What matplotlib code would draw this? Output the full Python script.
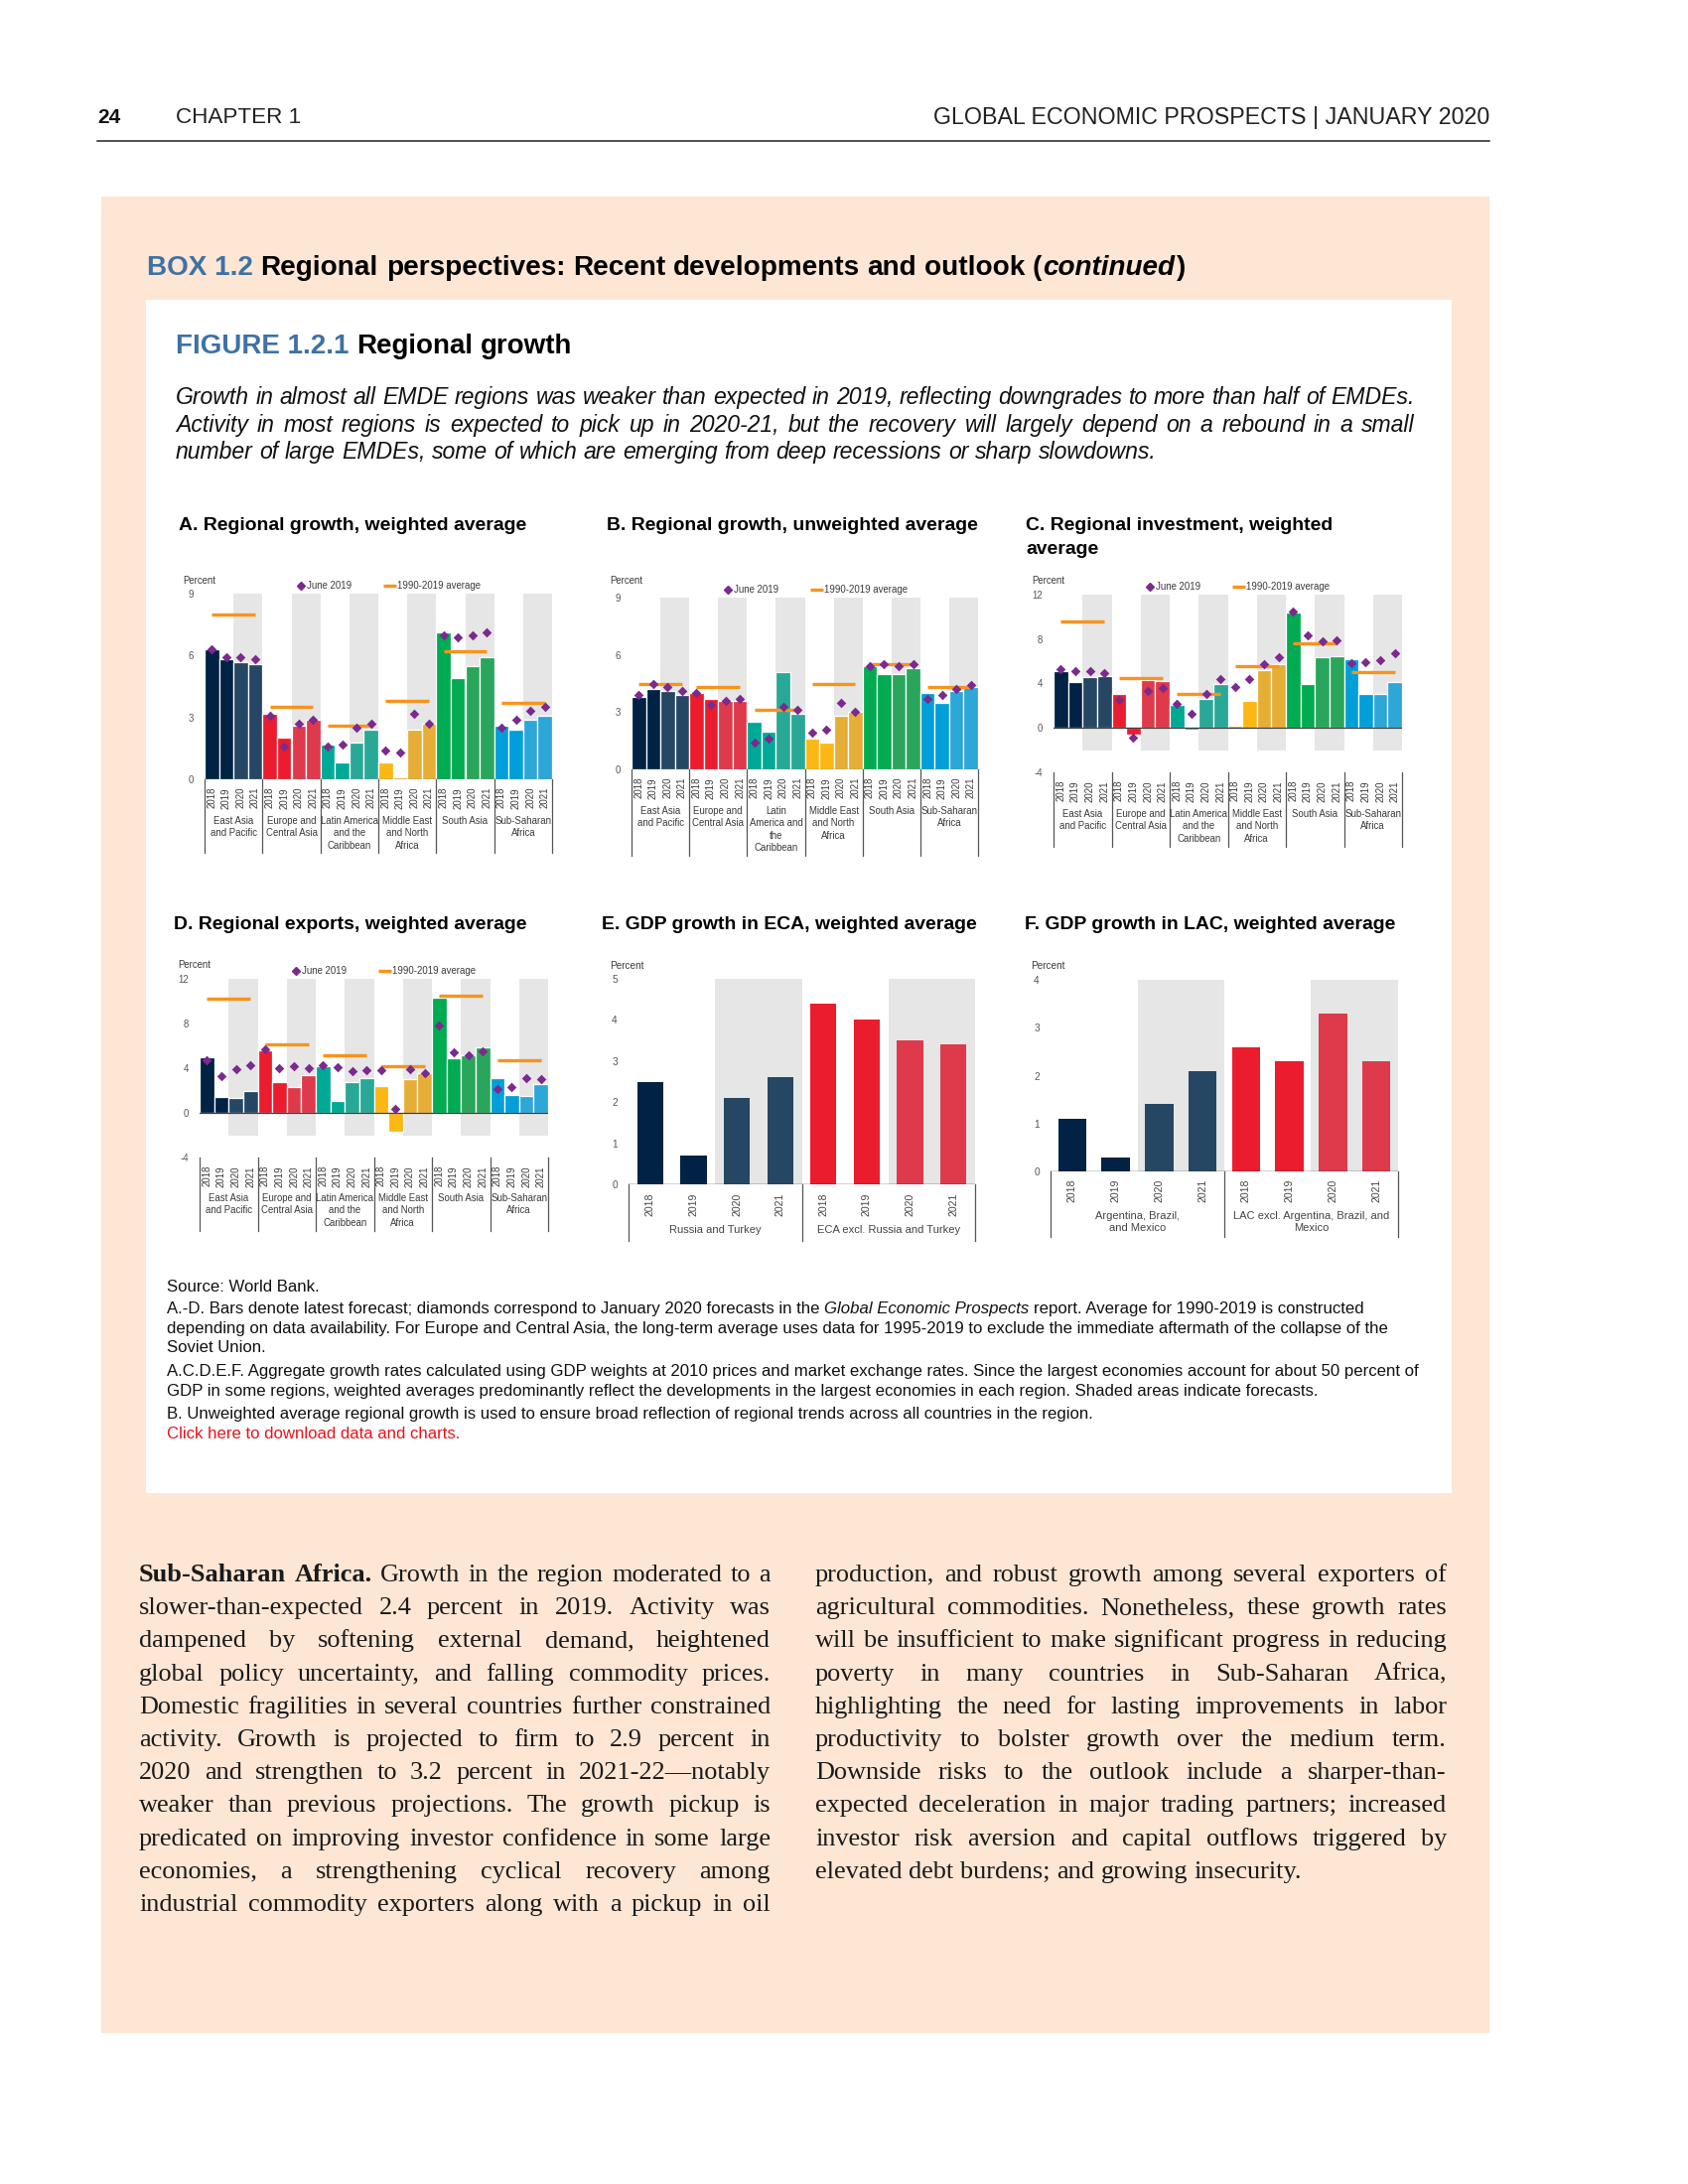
import numpy as np
import matplotlib
matplotlib.use('Agg')
import matplotlib.pyplot as plt
from matplotlib.font_manager import FontProperties
from matplotlib.patches import Rectangle
from matplotlib.lines import Line2D
import matplotlib.transforms as mtransforms

plt.rcParams['font.family'] = ['Liberation Sans', 'DejaVu Sans']

# ------------------------------------------------------------------ data
years = ['2018', '2019', '2020', '2021']
regions_A = ['East Asia\nand Pacific', 'Europe and\nCentral Asia', 'Latin America\nand the\nCaribbean',
             'Middle East\nand North\nAfrica', 'South Asia', 'Sub-Saharan\nAfrica']
regions_B = ['East Asia\nand Pacific', 'Europe and\nCentral Asia', 'Latin\nAmerica and\nthe\nCaribbean',
             'Middle East\nand North\nAfrica', 'South Asia', 'Sub-Saharan\nAfrica']
groups_E = ['Russia and Turkey', 'ECA excl. Russia and Turkey']
groups_F = ['Argentina, Brazil,\nand Mexico', 'LAC excl. Argentina, Brazil, and\nMexico']

# A. Regional growth, weighted average
a_bars = [6.3, 5.8, 5.7, 5.6, 3.2, 2.0, 2.6, 2.9, 1.7, 0.8, 1.8, 2.4,
          0.8, 0.1, 2.4, 2.7, 7.1, 4.9, 5.5, 5.9, 2.6, 2.4, 2.9, 3.1]
a_june = [6.3, 5.9, 5.9, 5.8, 3.1, 1.6, 2.7, 2.9, 1.6, 1.7, 2.5, 2.7,
          1.4, 1.3, 3.2, 2.7, 7.0, 6.9, 7.0, 7.1, 2.5, 2.9, 3.3, 3.5]
a_avg = [8.0, 3.5, 2.6, 3.8, 6.2, 3.7]

# B. Regional growth, unweighted average
b_bars = [3.8, 4.2, 4.1, 3.9, 4.0, 3.7, 3.6, 3.6, 2.5, 2.0, 5.1, 2.9,
          1.6, 1.4, 2.8, 3.0, 5.4, 5.0, 5.0, 5.3, 4.0, 3.5, 4.1, 4.3]
b_june = [3.9, 4.5, 4.3, 4.1, 4.0, 3.4, 3.6, 3.7, 1.4, 1.6, 3.3, 3.1,
          1.9, 2.1, 3.5, 3.0, 5.4, 5.5, 5.4, 5.5, 3.7, 3.9, 4.2, 4.4]
b_avg = [4.5, 4.3, 3.1, 4.5, 5.5, 4.3]

# C. Regional investment, weighted average
c_bars = [5.1, 4.1, 4.6, 4.7, 3.1, -0.6, 4.3, 4.2, 2.1, -0.2, 2.6, 4.0,
          0.2, 2.4, 5.2, 5.7, 10.4, 4.0, 6.4, 6.5, 6.2, 3.1, 3.1, 4.1]
c_june = [5.3, 5.1, 5.1, 4.9, 2.5, -0.9, 3.3, 3.6, 2.2, 1.3, 3.1, 4.4,
          3.7, 4.4, 5.7, 6.4, 10.5, 8.3, 7.8, 7.9, 5.8, 5.9, 6.1, 6.7]
c_avg = [9.6, 4.5, 3.1, 5.6, 7.6, 5.0]

# D. Regional exports, weighted average
d_bars = [5.0, 1.4, 1.3, 2.0, 5.6, 2.8, 2.3, 3.4, 4.2, 1.1, 2.8, 3.1,
          2.4, -1.7, 3.0, 3.6, 10.3, 4.9, 5.2, 5.9, 3.1, 1.6, 1.5, 2.6]
d_june = [4.7, 3.3, 3.9, 4.3, 5.7, 4.0, 4.2, 4.0, 4.3, 4.1, 3.7, 3.8,
          3.8, 0.4, 3.9, 3.6, 7.8, 5.4, 5.2, 5.5, 2.1, 2.3, 3.1, 3.0]
d_avg = [10.2, 6.1, 5.2, 4.2, 10.5, 4.7]

# E. GDP growth in ECA ; F. GDP growth in LAC
e_bars = [2.5, 0.7, 2.1, 2.6, 4.4, 4.0, 3.5, 3.4]
f_bars = [1.1, 0.3, 1.4, 2.1, 2.6, 2.3, 3.3, 2.3]

# ------------------------------------------------------------------ style
W, H = 1700, 2200
PEACH = '#FDE6D4'
BLUE = '#3F71A3'
SHADE = '#E6E6E6'
ORANGE = '#F7941D'
PURPLE = '#7B2A8E'
TXT = '#3A3A3A'
DARK = ['#002244', '#EB1C2D', '#00A996', '#FDB714', '#00AB51', '#009FDA']
LIGHT = ['#264764', '#DE3A4B', '#2AA897', '#E6AE37', '#2AA65C', '#2DA6D8']

fig = plt.figure(figsize=(17, 22), dpi=100)
fig.patch.set_facecolor('white')
renderer = fig.canvas.get_renderer()


def FX(x):
    return x / W


def FY(y):
    return 1 - y / H


def FP(size, weight='normal', style='normal', family='Liberation Sans'):
    return FontProperties(family=family, size=size, weight=weight, style=style)


def measure(s, fp):
    w, h, d = renderer.get_text_width_height_descent(s, fp, ismath=False)
    return w


def space_w(fp):
    return measure('a a', fp) - measure('aa', fp)


def put_words(words, x0, y, x1=None, justify=False):
    """words: list of (text, fontprops, color); y is baseline in px."""
    widths = [measure(t, fp) for t, fp, c in words]
    if justify and len(words) > 1:
        gap = (x1 - x0 - sum(widths)) / (len(words) - 1)
        gaps = [gap] * (len(words) - 1)
    else:
        gaps = [space_w(words[i][1]) for i in range(len(words) - 1)]
    x = x0
    for i, ((t, fp, c), w) in enumerate(zip(words, widths)):
        fig.text(FX(x), FY(y), t, fontproperties=fp, color=c, ha='left', va='baseline')
        if i < len(gaps):
            x += w + gaps[i]


def split_words(text, fp, color):
    return [(w, fp, color) for w in text.split()]


def fit(text, target, base=12, **kw):
    return base * target / measure(text, FP(base, **kw))


# ------------------------------------------------------------------ page
fig.add_artist(Rectangle((FX(102), FY(2048)), (1500 - 102) / W, (2048 - 198) / H,
                         transform=fig.transFigure, facecolor=PEACH, edgecolor='none', zorder=-5))
fig.add_artist(Rectangle((FX(147), FY(1504)), (1462 - 147) / W, (1504 - 302) / H,
                         transform=fig.transFigure, facecolor='white', edgecolor='none', zorder=-4))
fig.add_artist(Line2D([FX(98), FX(1500)], [FY(142), FY(142)], color='#222222', lw=1.1,
                      transform=fig.transFigure))

fig.text(FX(98), FY(119), '24', fontsize=15, fontweight='bold', va='center', ha='left', color='#111111')
fig.text(FX(177), FY(119), 'CHAPTER 1', fontsize=fit('CHAPTER 1', 126), va='center', ha='left', color='#222222')
hdr = 'GLOBAL ECONOMIC PROSPECTS | JANUARY 2020'
fig.text(FX(1500), FY(119), hdr, fontsize=fit(hdr, 560), va='center', ha='right', color='#222222')

# BOX title
box_full = 'BOX 1.2 Regional perspectives: Recent developments and outlook (continued)'
bfs = fit(box_full, 1036, weight='bold')
bfp = FP(bfs, 'bold')
bifp = FP(bfs, 'bold', 'italic')
put_words([('BOX 1.2', bfp, BLUE), ('Regional', bfp, 'black'), ('perspectives:', bfp, 'black'),
           ('Recent', bfp, 'black'), ('developments', bfp, 'black'), ('and', bfp, 'black')], 148, 277)
x_out = 148 + measure('BOX 1.2 Regional perspectives: Recent developments and', bfp) + space_w(bfp)
fig.text(FX(x_out), FY(277), 'outlook (', fontproperties=bfp, color='black', va='baseline', ha='left')
x_it = x_out + measure('outlook', bfp) + space_w(bfp) + measure('(', bfp) + 1
fig.text(FX(x_it), FY(277), 'continued', fontproperties=bifp, color='black', va='baseline', ha='left')
fig.text(FX(x_it + measure('continued', bifp) + 2), FY(277), ')', fontproperties=bfp, color='black',
         va='baseline', ha='left')

# FIGURE title
ffs = fit('FIGURE 1.2.1 Regional growth', 398, weight='bold')
ffp = FP(ffs, 'bold')
put_words([('FIGURE 1.2.1', ffp, BLUE), ('Regional', ffp, 'black'), ('growth', ffp, 'black')], 177, 356)

# italic subtitle
sub_lines = ['Growth in almost all EMDE regions was weaker than expected in 2019, reflecting downgrades to more than half of EMDEs.',
             'Activity in most regions is expected to pick up in 2020-21, but the recovery will largely depend on a rebound in a small',
             'number of large EMDEs, some of which are emerging from deep recessions or sharp slowdowns.']
sfs = fit(sub_lines[0], 1248, style='italic')
sfp = FP(sfs, style='italic')
for i, (ln, yb) in enumerate(zip(sub_lines, [407, 435, 462])):
    put_words(split_words(ln, sfp, '#111111'), 177, yb, 1425, justify=(i < 2))

# ------------------------------------------------------------------ panels
tfs = fit('A. Regional growth, weighted average', 349, weight='bold')
SMALL = 6.9


def panel_title(x, y, s):
    fig.text(FX(x), FY(y), s, fontsize=tfs, fontweight='bold', ha='left', va='baseline', color='black')


def percent_and_legend(x0, ytop, legend=True, dy=-13):
    fig.text(FX(x0 - 22), FY(ytop + dy), 'Percent', fontsize=SMALL, ha='left', va='center', color=TXT)
    if legend:
        yl = ytop - 8
        fig.add_artist(Line2D([FX(x0 + 97)], [FY(yl)], marker='D', markersize=4.2, color=PURPLE,
                              linestyle='none', transform=fig.transFigure))
        fig.text(FX(x0 + 103), FY(yl), 'June 2019', fontsize=SMALL, ha='left', va='center', color=TXT)
        fig.add_artist(Line2D([FX(x0 + 180), FX(x0 + 193)], [FY(yl), FY(yl)], color=ORANGE, lw=2.4,
                              solid_capstyle='butt', transform=fig.transFigure))
        fig.text(FX(x0 + 194), FY(yl), '1990-2019 average', fontsize=SMALL, ha='left', va='center', color=TXT)


def category_axis(ax, ah, ticklabels, groups, per, sep_len, year_off, group_off, fs, gfs=None, color=TXT):
    gfs = fs if gfs is None else gfs
    trans = mtransforms.blended_transform_factory(ax.transData, ax.transAxes)
    for i, t in enumerate(ticklabels):
        ax.text(i, -year_off / ah, t, transform=trans, rotation=90, ha='center', va='top',
                fontsize=fs, color=color, clip_on=False)
    for g, lab in enumerate(groups):
        ax.text(g * per + (per - 1) / 2, -group_off / ah, lab, transform=trans, ha='center', va='top',
                fontsize=gfs, linespacing=1.3, color=color, clip_on=False)
    for b in range(len(groups) + 1):
        xb = b * per - 0.5
        ax.add_line(Line2D([xb, xb], [0, -sep_len / ah], transform=trans, color='#555555', lw=0.9,
                           clip_on=False))


def style_axes(ax, ylim, yticks, fs=SMALL):
    ax.set_ylim(*ylim)
    ax.set_yticks(yticks)
    ax.set_yticklabels([str(t) for t in yticks])
    ax.tick_params(axis='y', length=0, pad=8, labelsize=fs, labelcolor='#555555')
    ax.set_xticks([])
    for s in ax.spines.values():
        s.set_visible(False)
    ax.patch.set_alpha(0)


def regional_panel(x0, x1, ytop, ybot, ylim, yticks, shade_lo, bars, june, avg, labels, sep_len, group_off):
    ax = fig.add_axes([FX(x0), FY(ybot), (x1 - x0) / W, (ybot - ytop) / H])
    n = len(bars)
    idx = np.arange(n)
    gs = np.arange(len(avg)) * 4
    ax.bar(gs + 2.5, [ylim[1] - shade_lo] * len(gs), width=2.0, bottom=shade_lo, color=SHADE,
           linewidth=0, zorder=0)
    cols = [DARK[i // 4] if i % 4 < 2 else LIGHT[i // 4] for i in range(n)]
    ax.bar(idx, bars, width=1.0, color=cols, edgecolor='white', linewidth=0.9, zorder=2)
    ax.axhline(0, color='#3a3a3a', lw=0.9, zorder=3)
    ax.hlines(avg, gs, gs + 3, colors=ORANGE, lw=2.4, zorder=4)
    ax.scatter(idx, june, marker='D', s=24, color=PURPLE, linewidths=0, zorder=5)
    ax.set_xlim(-0.5, n - 0.5)
    style_axes(ax, ylim, yticks)
    category_axis(ax, ybot - ytop, years * len(labels), labels, 4, sep_len, 8, group_off, SMALL)
    return ax


def split_panel(x0, x1, ytop, ybot, ymax, bars, groups, width, sep_len, year_off, group_off):
    ax = fig.add_axes([FX(x0), FY(ybot), (x1 - x0) / W, (ybot - ytop) / H])
    idx = np.arange(len(bars))
    ax.bar([2.5, 6.5], [ymax, ymax], width=2.0, color=SHADE, linewidth=0, zorder=0)
    cols = [DARK[0], DARK[0], LIGHT[0], LIGHT[0], DARK[1], DARK[1], LIGHT[1], LIGHT[1]]
    ax.bar(idx, bars, width=width, color=cols, linewidth=0, zorder=2)
    ax.axhline(0, color='#222222', lw=1.0, zorder=3)
    ax.set_xlim(-0.5, len(bars) - 0.5)
    style_axes(ax, (0, ymax), list(range(0, ymax + 1)), fs=7.3)
    category_axis(ax, ybot - ytop, years * 2, groups, 4, sep_len, year_off, group_off, 7.6, gfs=8.0,
                  color='#444444')
    return ax


# A
panel_title(180, 534, 'A. Regional growth, weighted average')
regional_panel(206, 556, 598, 785, (0, 9), [0, 3, 6, 9], 0, a_bars, a_june, a_avg, regions_A, 74, 37)
percent_and_legend(206, 598)

# B
panel_title(611, 534, 'B. Regional growth, unweighted average')
regional_panel(636, 985, 602, 775, (0, 9), [0, 3, 6, 9], 0, b_bars, b_june, b_avg, regions_B, 87, 37)
percent_and_legend(636, 602, dy=-17)

# C
panel_title(1033, 534, 'C. Regional investment, weighted')
panel_title(1033, 558, 'average')
regional_panel(1061, 1412, 599, 778, (-4, 12), [-4, 0, 4, 8, 12], -2, c_bars, c_june, c_avg, regions_A, 75, 37)
percent_and_legend(1061, 599, dy=-14)

# D
panel_title(175, 936, 'D. Regional exports, weighted average')
regional_panel(201, 552, 986, 1166, (-4, 12), [-4, 0, 4, 8, 12], -2, d_bars, d_june, d_avg, regions_A, 74, 36)
percent_and_legend(201, 986, dy=-14)

# E
panel_title(606, 936, 'E. GDP growth in ECA, weighted average')
split_panel(633, 982, 986, 1193, 5, e_bars, groups_E, 0.6, 57, 9, 41)
fig.text(FX(614), FY(973), 'Percent', fontsize=7.2, ha='left', va='center', color=TXT)

# F
panel_title(1032, 936, 'F. GDP growth in LAC, weighted average')
split_panel(1058, 1408, 987, 1180, 4, f_bars, groups_F, 0.65, 66, 8, 40)
fig.text(FX(1038), FY(973), 'Percent', fontsize=7.2, ha='left', va='center', color=TXT)

# ------------------------------------------------------------------ notes
n_ad1 = 'A.-D. Bars denote latest forecast; diamonds correspond to January 2020 forecasts in the'
n_ad_it = 'Global Economic Prospects'
n_ad2 = 'report. Average for 1990-2019 is constructed'
nfs = fit(n_ad1 + ' ' + n_ad_it + ' ' + n_ad2, 1201)
nfp = FP(nfs)
nifp = FP(nfs, style='italic')
note_base = [1301, 1323, 1343, 1362, 1386, 1406, 1429, 1449]
fig.text(FX(168), FY(note_base[0]), 'Source: World Bank.', fontproperties=nfp, va='baseline', color='#111111')
xa = 168
fig.text(FX(xa), FY(note_base[1]), n_ad1, fontproperties=nfp, va='baseline', color='#111111')
xa += measure(n_ad1, nfp) + space_w(nfp)
fig.text(FX(xa), FY(note_base[1]), n_ad_it, fontproperties=nifp, va='baseline', color='#111111')
xa += measure(n_ad_it, nifp) + space_w(nfp)
fig.text(FX(xa), FY(note_base[1]), n_ad2, fontproperties=nfp, va='baseline', color='#111111')
other_notes = [
    'depending on data availability. For Europe and Central Asia, the long-term average uses data for 1995-2019 to exclude the immediate aftermath of the collapse of the',
    'Soviet Union.',
    'A.C.D.E.F. Aggregate growth rates calculated using GDP weights at 2010 prices and market exchange rates. Since the largest economies account for about 50 percent of',
    'GDP in some regions, weighted averages predominantly reflect the developments in the largest economies in each region. Shaded areas indicate forecasts.',
    'B. Unweighted average regional growth is used to ensure broad reflection of regional trends across all countries in the region.',
]
for ln, yb in zip(other_notes, note_base[2:7]):
    fig.text(FX(168), FY(yb), ln, fontproperties=nfp, va='baseline', color='#111111')
fig.text(FX(168), FY(note_base[7]), 'Click here to download data and charts.', fontproperties=nfp,
         va='baseline', color='#E8141B')

# ------------------------------------------------------------------ body text
left_lines = [
    'Sub-Saharan Africa. Growth in the region moderated to a',
    'slower-than-expected 2.4 percent in 2019.  Activity was',
    'dampened by softening external demand, heightened',
    'global policy uncertainty, and falling commodity prices.',
    'Domestic fragilities in several countries further constrained',
    'activity. Growth is projected to firm to 2.9 percent in',
    '2020 and strengthen to 3.2 percent in 2021-22\u2014notably',
    'weaker than previous projections. The growth pickup is',
    'predicated on improving investor confidence in some large',
    'economies, a strengthening cyclical recovery among',
    'industrial commodity exporters along with a pickup in oil',
]
right_lines = [
    'production, and robust growth among several exporters of',
    'agricultural commodities. Nonetheless, these growth rates',
    'will be insufficient to make significant progress in reducing',
    'poverty in many countries in Sub-Saharan Africa,',
    'highlighting the need for lasting improvements in labor',
    'productivity to bolster growth over the medium term.',
    'Downside risks to the outlook include a sharper-than-',
    'expected deceleration in major trading partners; increased',
    'investor risk aversion and capital outflows triggered by',
    'elevated debt burdens; and growing insecurity.',
]
SERIF = 'Liberation Serif'
base_fp = FP(20, family=SERIF)
col_w = 636
max_nat = max(measure(l, base_fp) for l in left_lines + right_lines)
bfs_body = 20 * col_w / max_nat * 0.985
body_fp = FP(bfs_body, family=SERIF)
body_bold = FP(bfs_body, 'bold', family=SERIF)
body_col = '#1a1a1a'
b0, lead = 1593, 33.2
for i, ln in enumerate(left_lines):
    words = split_words(ln, body_fp, body_col)
    if i == 0:
        words[0] = ('Sub-Saharan', body_bold, body_col)
        words[1] = ('Africa.', body_bold, body_col)
    put_words(words, 140, b0 + i * lead, 776, justify=True)
for i, ln in enumerate(right_lines):
    put_words(split_words(ln, body_fp, body_col), 821, b0 + i * lead, 1457,
              justify=(i < len(right_lines) - 1))

fig.savefig('out.png', dpi=100, facecolor='white')
